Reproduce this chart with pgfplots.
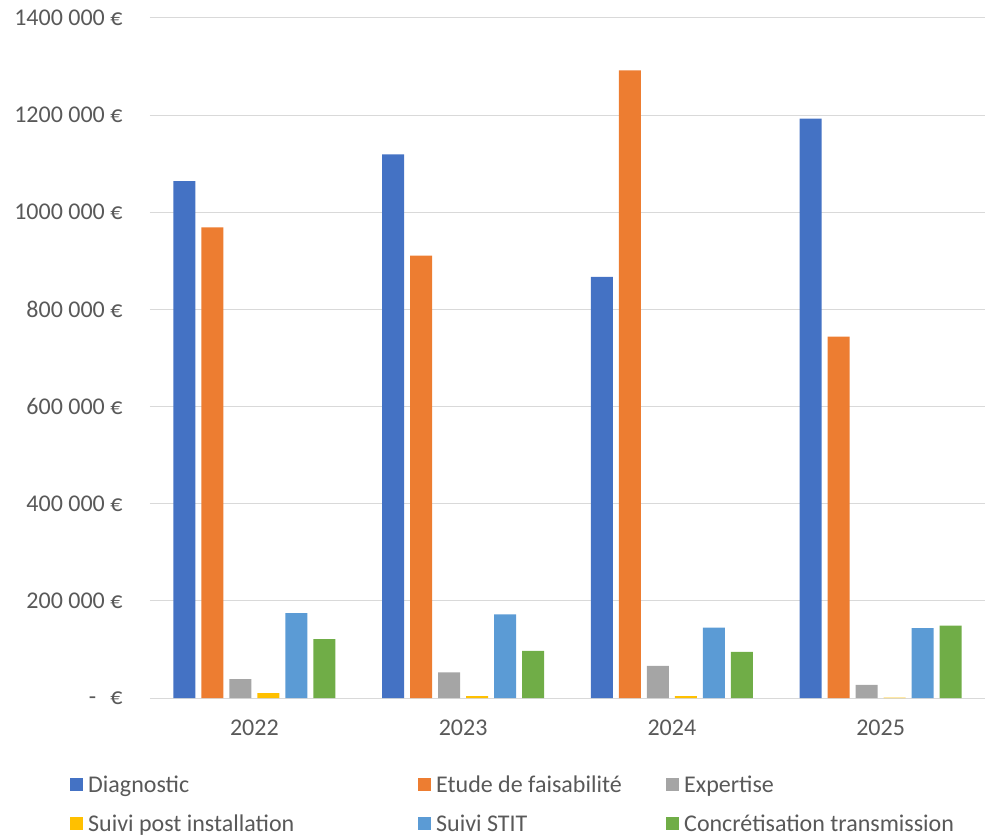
\documentclass[border=0pt]{standalone}
\usepackage{fontspec}
\setmainfont{Carlito}
\usepackage{pgfplots}
\pgfplotsset{compat=1.18}
\definecolor{cDiag}{HTML}{4472C4}
\definecolor{cEtude}{HTML}{ED7D31}
\definecolor{cExp}{HTML}{A5A5A5}
\definecolor{cPost}{HTML}{FFC000}
\definecolor{cStit}{HTML}{5B9BD5}
\definecolor{cConc}{HTML}{70AD47}
\definecolor{txt}{HTML}{595959}
\definecolor{grd}{HTML}{D9D9D9}
\begin{document}
\begin{tikzpicture}
\useasboundingbox (-150bp,-141bp) rectangle (836bp,698bp);
\begin{axis}[
    scale only axis,
    width=835bp, height=680bp,
    ybar=6bp, bar width=22bp,
    xmin=-0.5, xmax=3.5,
    ymin=0, ymax=1400000,
    xtick={0,1,2,3},
    xticklabels={2022,2023,2024,2025},
    ytick={0,200000,400000,600000,800000,1000000,1200000,1400000},
    yticklabels={{-\hspace{14bp}€},{200 000 €},{400 000 €},{600 000 €},{800 000 €},{1000 000 €},{1200 000 €},{1400 000 €}},
    scaled y ticks=false,
    ymajorgrids,
    grid style={grd, line width=1bp},
    axis line style={draw=none},
    major tick length=0pt,
    tick label style={font=\fontsize{24bp}{28bp}\selectfont, text=txt},
    yticklabel style={xshift=-24bp},
    xticklabel style={yshift=-18bp},
    every axis plot post/.append style={draw=none,
        legend image code/.code={\fill[##1] (0bp,-6.5bp) rectangle (13bp,6.5bp);}},
    legend columns=3,
    legend style={at={(-0.0958,-0.111)}, anchor=north west, draw=none,
        inner sep=0pt, column sep=0pt, row sep=17bp,
        font=\fontsize{24bp}{28bp}\selectfont, text=txt,
        nodes={inner sep=2bp}},
    legend cell align=left,
]
\addplot[fill=cDiag] coordinates {(0,1064000) (1,1119000) (2,867000) (3,1193000)};
\addlegendentry{\makebox[331bp][l]{\hspace*{3bp}Diagnostic}}
\addplot[fill=cEtude] coordinates {(0,969000) (1,911000) (2,1292000) (3,744000)};
\addlegendentry{\makebox[231bp][l]{\hspace*{3bp}Etude de faisabilité}}
\addplot[fill=cExp] coordinates {(0,39000) (1,53000) (2,66000) (3,27000)};
\addlegendentry{\hspace*{3bp}Expertise}
\addplot[fill=cPost] coordinates {(0,10000) (1,4000) (2,4000) (3,1000)};
\addlegendentry{\makebox[331bp][l]{\hspace*{3bp}Suivi post installation}}
\addplot[fill=cStit] coordinates {(0,175000) (1,172000) (2,145000) (3,144000)};
\addlegendentry{\makebox[231bp][l]{\hspace*{3bp}Suivi STIT}}
\addplot[fill=cConc] coordinates {(0,121000) (1,97000) (2,95000) (3,149000)};
\addlegendentry{\hspace*{3bp}Concrétisation transmission}
\end{axis}
\end{tikzpicture}
\end{document}
